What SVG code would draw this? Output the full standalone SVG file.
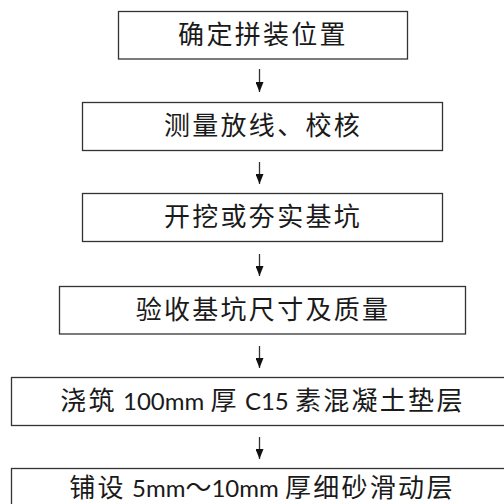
<svg xmlns="http://www.w3.org/2000/svg" width="504" height="504" viewBox="0 0 504 504">
<defs>
<marker id="ah" viewBox="0 0 10 8" refX="10" refY="4" markerWidth="10" markerHeight="8" markerUnits="userSpaceOnUse" orient="auto">
<path d="M0,0 L10,4 L0,8 Z" fill="#111"/>
</marker>
<style>
.box{fill:#fff;stroke:#333;stroke-width:1.3}
.t{font-family:"Noto Sans CJK SC","Noto Sans",sans-serif;font-size:26px;fill:#1a1a1a;text-anchor:middle}
.c{letter-spacing:2.3px}
.l{font-family:Lato,"Liberation Sans",sans-serif;font-size:24px;letter-spacing:0}
.ar{stroke:#333;stroke-width:1.3;fill:none}
</style>
</defs>
<rect width="504" height="504" fill="#fff"/>
<g id="connectors">
<path class="ar" d="M259.5,69 V92" marker-end="url(#ah)"/>
<path class="ar" d="M259.5,162 V184" marker-end="url(#ah)"/>
<path class="ar" d="M259.5,254 V276" marker-end="url(#ah)"/>
<path class="ar" d="M259.5,346 V368" marker-end="url(#ah)"/>
<path class="ar" d="M259.5,437 V459" marker-end="url(#ah)"/>
</g>
<g id="n1"><rect class="box" x="118.5" y="11.5" width="289" height="47.5"/><text class="t c" x="263" y="44">确定拼装位置</text></g>
<g id="n2"><rect class="box" x="82.5" y="102.5" width="360" height="48"/><text class="t c" x="263" y="135">测量放线、校核</text></g>
<g id="n3"><rect class="box" x="82.5" y="193.5" width="360" height="48"/><text class="t c" x="263" y="226">开挖或夯实基坑</text></g>
<g id="n4"><rect class="box" x="59.5" y="286.5" width="406" height="47.5"/><text class="t c" x="263" y="319">验收基坑尺寸及质量</text></g>
<g id="n5"><rect class="box" x="11.5" y="377.5" width="504" height="48"/><text class="t" x="262.5" y="410"><tspan class="c">浇筑</tspan><tspan class="l"> 100mm </tspan><tspan class="c">厚</tspan><tspan class="l"> C15 </tspan><tspan class="c">素混凝土垫层</tspan></text></g>
<g id="n6"><rect class="box" x="11.5" y="468.5" width="504" height="48"/><text class="t" x="262" y="497"><tspan class="c">铺设</tspan><tspan class="l"> 5mm</tspan><tspan>～</tspan><tspan class="l">10mm </tspan><tspan class="c">厚细砂滑动层</tspan></text></g>
</svg>
